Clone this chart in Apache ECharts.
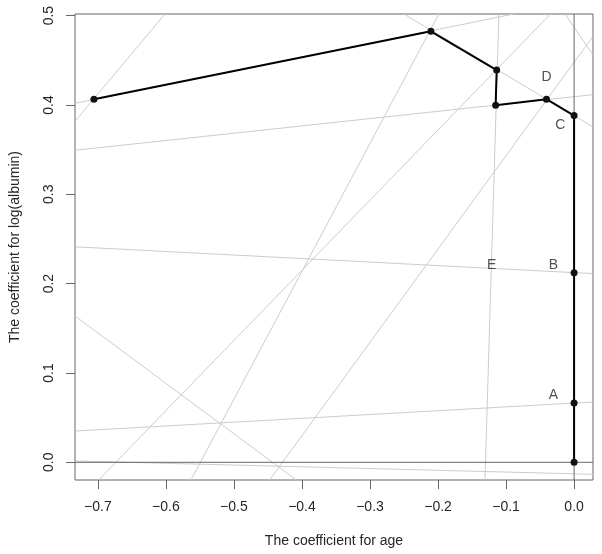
<!DOCTYPE html>
<html>
<head>
<meta charset="utf-8">
<script src="https://cdn.jsdelivr.net/npm/echarts@6/dist/echarts.min.js"></script>
<style>
html,body{margin:0;padding:0;background:#fff;}
#c{width:602px;height:554px;}
</style>
</head>
<body>
<div id="c"></div>
<script>
// Axis ranges and ticks
const xRange = [-0.7336, 0.0278];
const yRange = [-0.0198, 0.5018];
const xTicks = [-0.7, -0.6, -0.5, -0.4, -0.3, -0.2, -0.1, 0.0];
const yTicks = [0.0, 0.1, 0.2, 0.3, 0.4, 0.5];

// Grey constraint lines: endpoints (x1,y1) -> (x2,y2)
const lineX1 = [-0.6989, -0.7332, -0.5632, -0.4475, -0.1310, -0.7332, -0.7332, -0.7332, -0.7332, -0.2501, -0.7332, -0.7332, -0.0132];
const lineY1 = [-0.0198,  0.1636, -0.0198, -0.0198, -0.0198,  0.2412,  0.0350,  0.3493,  0.4019,  0.5018,  0.0015,  0.3821,  0.5018];
const lineX2 = [-0.0347, -0.4083, -0.1988,  0.0278, -0.1105,  0.0278,  0.0278,  0.0278, -0.0889,  0.0278,  0.0278, -0.6013,  0.0278];
const lineY2 = [ 0.5018, -0.0198,  0.5018,  0.4768,  0.5018,  0.2112,  0.0675,  0.4115,  0.5018,  0.3754, -0.0134,  0.5018,  0.4560];

// Solution path
const pathX = [-0.7058, -0.2105, -0.1138, -0.1153, -0.0406, 0.0, 0.0, 0.0, 0.0];
const pathY = [ 0.4064,  0.4824,  0.4391,  0.3997,  0.4064, 0.3881, 0.2121, 0.0663, 0.0];

// Text labels
const labelText = ['A', 'B', 'C', 'D', 'E'];
const labelX = [-0.0303, -0.0303, -0.0201, -0.0406, -0.1212];
const labelY = [ 0.0753,  0.2207,  0.3773,  0.4306,  0.2207];

const FONT = '"Liberation Sans", Arial, Helvetica, sans-serif';
const TXT = '#262626';
const FG = '#666666';

const series = [];
for (let i = 0; i < lineX1.length; i++) {
  series.push({
    type: 'line', silent: true, symbol: 'none', z: 1,
    data: [[lineX1[i], lineY1[i]], [lineX2[i], lineY2[i]]],
    lineStyle: {color: '#cccccc', width: 1}
  });
}
// reference lines at 0
series.push({type:'line', silent:true, symbol:'none', z:2,
  data:[[xRange[0],0],[xRange[1],0]], lineStyle:{color:FG, width:1}});
series.push({type:'line', silent:true, symbol:'none', z:2,
  data:[[0,yRange[0]],[0,yRange[1]]], lineStyle:{color:FG, width:1}});
// path
series.push({type:'line', z:5, symbol:'circle', symbolSize:7,
  data: pathX.map((x,i)=>[x, pathY[i]]),
  lineStyle:{color:'#000', width:2}, itemStyle:{color:'#111'}});
// labels
series.push({type:'scatter', z:6, symbolSize:0, silent:true,
  data: labelText.map((t,i)=>({name:t, value:[labelX[i], labelY[i]]})),
  label:{show:true, position:'inside', formatter:p=>p.name,
    color:TXT, fontSize:14, fontFamily:FONT}});

const fmt = v => (v < 0 ? '\u2212' : '') + Math.abs(v).toFixed(1);

const option = {
  animation: false,
  backgroundColor: '#fff',
  grid: {left:73, right:9, top:14, bottom:74, show:true, borderColor:FG, borderWidth:1, backgroundColor:'transparent'},
  xAxis: {
    type:'value', min:xRange[0], max:xRange[1],
    axisLine:{show:false, onZero:false},
    splitLine:{show:false},
    axisTick:{show:true, length:9, lineStyle:{color:FG}, customValues:xTicks},
    axisLabel:{customValues:xTicks, formatter:fmt, color:TXT, fontSize:14, fontFamily:FONT, margin:20},
    name:'The coefficient for age', nameLocation:'middle', nameGap:54,
    nameTextStyle:{color:TXT, fontSize:14, fontFamily:FONT}
  },
  yAxis: {
    type:'value', min:yRange[0], max:yRange[1],
    axisLine:{show:false, onZero:false},
    splitLine:{show:false},
    axisTick:{show:true, length:9, lineStyle:{color:FG}, customValues:yTicks},
    axisLabel:{customValues:yTicks, formatter:v=>v.toFixed(1), rotate:90, color:TXT, fontSize:14, fontFamily:FONT, margin:19},
    name:'The coefficient for log(albumin)', nameLocation:'middle', nameGap:53,
    nameTextStyle:{color:TXT, fontSize:14, fontFamily:FONT}
  },
  series: series
};
const chart = echarts.init(document.getElementById('c'), null, {renderer:'canvas'});
chart.setOption(option);
</script>
</body>
</html>
